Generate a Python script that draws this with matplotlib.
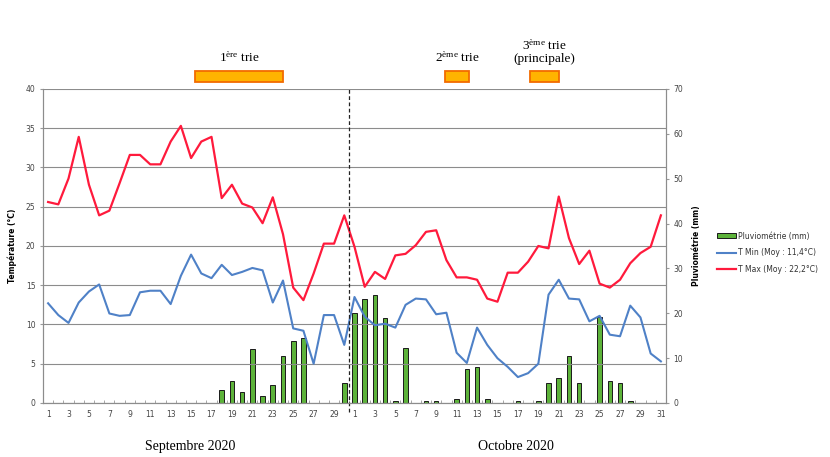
import matplotlib
matplotlib.use("Agg")
import matplotlib.pyplot as plt
import matplotlib.transforms as mtransforms
from matplotlib.patches import Rectangle
import numpy as np

# ---------------- data ----------------
sept_days = list(range(1, 31))
oct_days = list(range(1, 32))
day_labels = sept_days + oct_days

tmax = [25.6, 25.3, 28.6, 33.9, 27.8, 23.9, 24.5, 28.0, 31.6, 31.6,
        30.4, 30.4, 33.3, 35.3, 31.2, 33.3, 33.9, 26.1, 27.8, 25.4,
        24.9, 22.9, 26.2, 21.5, 14.7, 13.1, 16.5, 20.3, 20.3, 23.9,
        19.9, 14.8, 16.7, 15.8, 18.8, 19.0, 20.1, 21.8, 22.0, 18.2,
        16.0, 16.0, 15.7, 13.3, 12.9, 16.6, 16.6, 18.0, 20.0, 19.7,
        26.3, 21.0, 17.7, 19.4, 15.2, 14.7, 15.7, 17.8, 19.1, 19.9, 23.9]

tmin = [12.7, 11.2, 10.2, 12.8, 14.2, 15.1, 11.4, 11.1, 11.2, 14.1,
        14.3, 14.3, 12.6, 16.2, 18.9, 16.5, 15.9, 17.6, 16.3, 16.7,
        17.2, 16.9, 12.8, 15.6, 9.5, 9.2, 5.0, 11.2, 11.2, 7.4,
        13.5, 11.0, 9.9, 10.1, 9.6, 12.5, 13.3, 13.2, 11.3, 11.5,
        6.4, 5.1, 9.6, 7.4, 5.7, 4.6, 3.3, 3.8, 5.0, 13.8,
        15.7, 13.3, 13.2, 10.4, 11.1, 8.7, 8.5, 12.4, 10.9, 6.3, 5.3]

rain = [0, 0, 0, 0, 0, 0, 0, 0, 0, 0,
        0, 0, 0, 0, 0, 0, 0, 2.9, 4.9, 2.5,
        12.0, 1.5, 3.9, 10.4, 13.9, 14.4, 0, 0, 0, 4.4,
        20.0, 23.1, 24.0, 19.0, 0.5, 12.3, 0, 0.5, 0.5, 0,
        0.9, 7.5, 8.0, 0.8, 0, 0, 0.5, 0, 0.5, 4.5,
        5.5, 10.4, 4.4, 0, 19.1, 4.9, 4.4, 0.5, 0, 0, 0]

legend_labels = ["Pluviométrie (mm)", "T Min (Moy : 11,4°C)", "T Max (Moy : 22,2°C)"]
month_labels = ["Septembre 2020", "Octobre 2020"]

# sorting periods (positions on the day axis, 0 = 1 Sept)
period_start = [14.4, 38.9, 47.2]
period_end = [23.0, 41.2, 50.0]
period_labels = [r"1$^{\mathrm{ère}}$ trie", r"2$^{\mathrm{ème}}$ trie",
                 r"3$^{\mathrm{ème}}$ trie" + "\n(principale)"]

# ---------------- figure ----------------
plt.rcParams['mathtext.fontset'] = 'custom'
plt.rcParams['mathtext.rm'] = 'Liberation Serif'
plt.rcParams['mathtext.it'] = 'Liberation Serif:italic'
plt.rcParams['mathtext.bf'] = 'Liberation Serif:bold'

fig = plt.figure(figsize=(8.3, 4.57), dpi=100)
ax = fig.add_axes([0.0518, 0.1182, 0.7506, 0.6871])
ax2 = ax.twinx()
ax.set_zorder(ax2.get_zorder() + 1)
ax.patch.set_visible(False)

x = np.arange(len(day_labels))

bars = ax2.bar(x, rain, width=0.45, color="#5DB33A", edgecolor="#1a1a1a",
               linewidth=0.7, label=legend_labels[0])
l1, = ax.plot(x, tmin, color="#4F81C7", lw=1.5, label=legend_labels[1])
l2, = ax.plot(x, tmax, color="#FF1A3C", lw=1.6, label=legend_labels[2])

ax.set_xlim(-0.5, len(day_labels) - 0.5)
ax.set_ylim(0, 40)
ax2.set_ylim(0, 70)
ax.set_yticks(np.arange(0, 41, 5))
ax2.set_yticks(np.arange(0, 71, 10))
ax.grid(axis='y', color="#8c8c8c", lw=0.8)
ax.set_axisbelow(True)

ax.set_xticks(x[::2])
ax.set_xticklabels([str(d) for d in day_labels[::2]])
ax.set_xticks(np.arange(-0.5, len(day_labels), 1), minor=True)
ax.tick_params(axis='x', which='major', length=0, labelsize=5.5,
               labelcolor="#444444", pad=5)
ax.tick_params(axis='x', which='minor', length=2, color="#999999", direction='in')
ax.tick_params(axis='y', labelsize=5.5, labelcolor="#444444", length=2,
               color="#999999")
ax2.tick_params(axis='y', labelsize=5.5, labelcolor="#444444", length=2,
                color="#999999")

for a in (ax, ax2):
    a.spines['top'].set_visible(False)
    for s in ('left', 'right', 'bottom'):
        a.spines[s].set_color("#8c8c8c")
        a.spines[s].set_linewidth(0.8)

ax.set_ylabel("Température (°C)", fontsize=5.5, fontweight='bold', labelpad=6)
ax2.set_ylabel("Pluviométrie (mm)", fontsize=5.5, fontweight='bold', labelpad=6)

# separation between months
ax.axvline(29.5, ymin=-0.03, ymax=1, color="#222222", lw=0.9, ls=(0, (3, 2)),
           clip_on=False)

# month labels
trans_m = mtransforms.blended_transform_factory(ax.transData, fig.transFigure)
ax.text(13.9, 0.022, month_labels[0], transform=trans_m, ha='center', va='center',
        fontsize=10, family='Liberation Serif')
ax.text(45.8, 0.022, month_labels[1], transform=trans_m, ha='center', va='center',
        fontsize=10, family='Liberation Serif')

# sorting periods above plot
trans_p = mtransforms.blended_transform_factory(ax.transData, ax.transAxes)
for s, e, lab in zip(period_start, period_end, period_labels):
    ax.add_patch(Rectangle((s, 1.022), e - s, 0.035, transform=trans_p,
                           clip_on=False, facecolor="#FFB300",
                           edgecolor="#F26B00", lw=1.3))
    ax.text((s + e) / 2, 1.075, lab, transform=trans_p, ha='center', va='bottom',
            fontsize=9.5, family='Liberation Serif', linespacing=1.0)

fig.legend(handles=[bars, l1, l2], labels=legend_labels, loc='center left',
           bbox_to_anchor=(0.858, 0.447), frameon=False, fontsize=5.5,
           handlelength=2.4, handleheight=0.6, labelspacing=1.0,
           labelcolor="#333333", handletextpad=0.3, borderpad=0.2)

fig.savefig("out.png", dpi=100)
